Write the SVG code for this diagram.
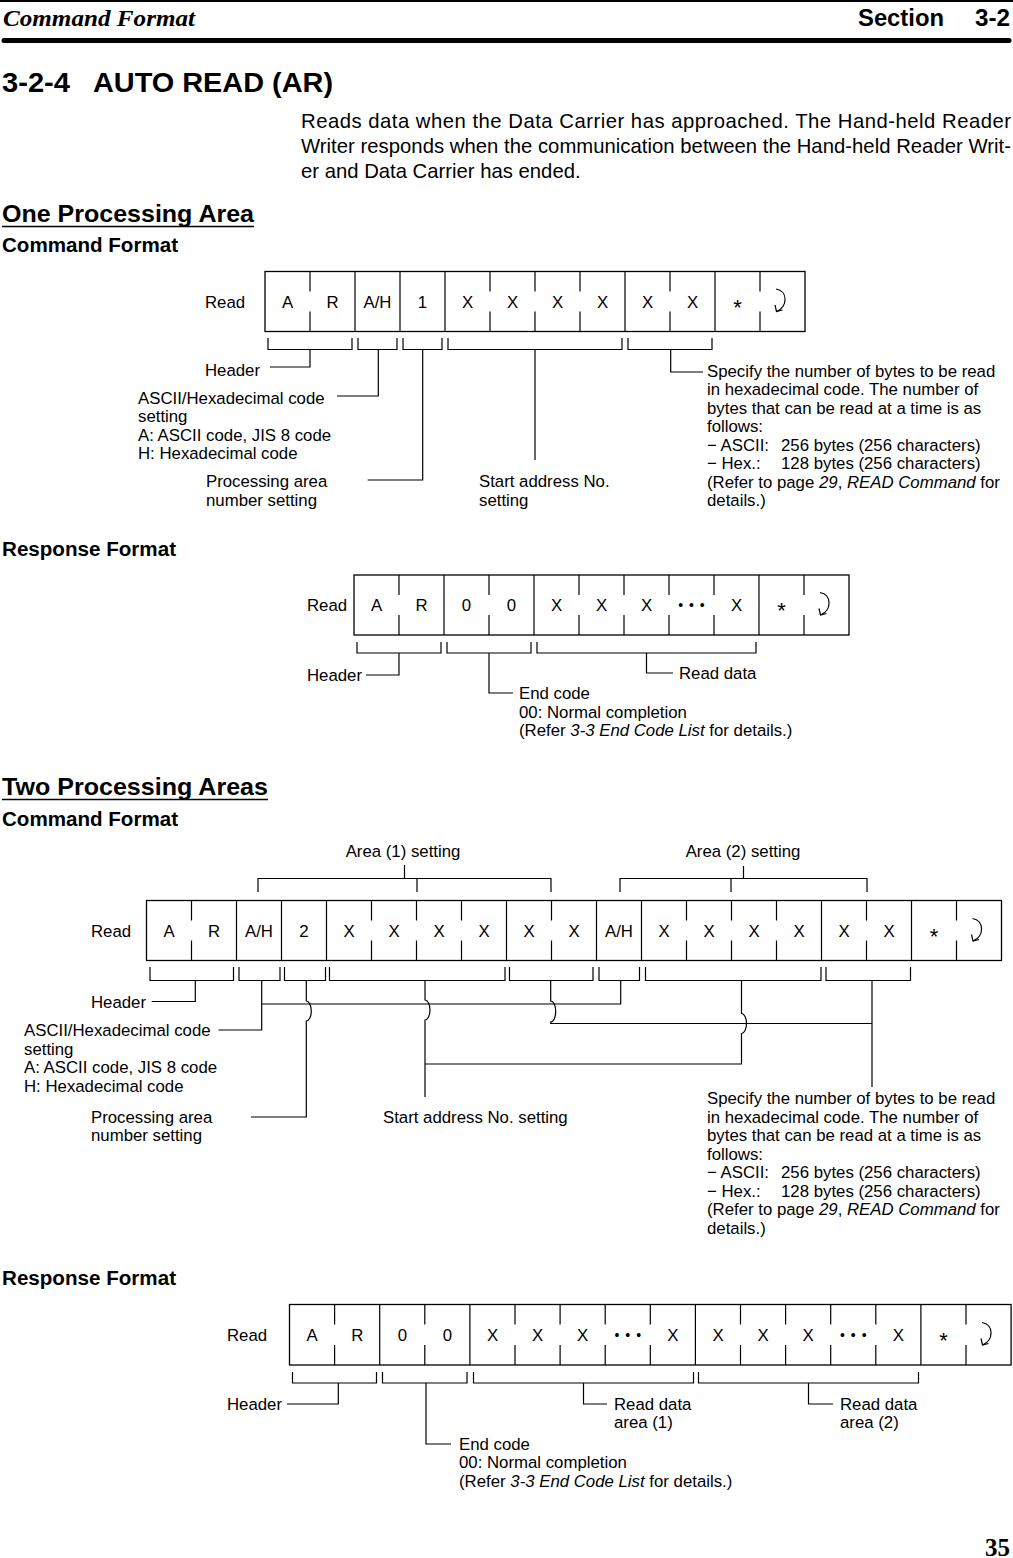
<svg xmlns="http://www.w3.org/2000/svg" width="1013" height="1558" viewBox="0 0 1013 1558">
<style>
.l{font-family:"Liberation Sans",Arial,sans-serif;font-size:16.8px;fill:#000}
.c{font-family:"Liberation Sans",Arial,sans-serif;font-size:16.8px;fill:#000;text-anchor:middle}
.st{font-family:"Liberation Sans",Arial,sans-serif;font-size:22px;fill:#000;text-anchor:middle}
.dots{font-family:"Liberation Sans",Arial,sans-serif;font-size:14px;fill:#000;text-anchor:middle;letter-spacing:1px}
.b{font-family:"Liberation Sans",Arial,sans-serif;font-size:20.3px;fill:#000}
.h2{font-family:"Liberation Sans",Arial,sans-serif;font-size:24px;font-weight:bold;fill:#000}
.h3{font-family:"Liberation Sans",Arial,sans-serif;font-size:20px;font-weight:bold;fill:#000}
.i{font-style:italic}
.box{fill:#fff;stroke:#000;stroke-width:1.3}
.ln{fill:none;stroke:#000;stroke-width:1.2}
</style>
<defs>
<g id="ret"><path d="M-4,-12 C8,-10 8,6 -3.5,10.5" fill="none" stroke="#000" stroke-width="1.2"/><path d="M-5,4 L-3.5,10.5 L2.5,9" fill="none" stroke="#000" stroke-width="1.2"/></g>
</defs>

<g id="page-header">
<line x1="0" y1="1" x2="1013" y2="1" stroke="#000" stroke-width="2"/>
<text x="3" y="26" font-family="'Liberation Serif','Times New Roman',serif" font-size="24" font-weight="bold" font-style="italic" textLength="192" lengthAdjust="spacingAndGlyphs">Command Format</text>
<text x="858" y="26" font-family="'Liberation Sans',Arial,sans-serif" font-size="23" font-weight="bold" textLength="86" lengthAdjust="spacingAndGlyphs">Section</text>
<text x="975" y="26" font-family="'Liberation Sans',Arial,sans-serif" font-size="23" font-weight="bold" textLength="35" lengthAdjust="spacingAndGlyphs">3-2</text>
<line x1="4" y1="40.5" x2="1009" y2="40.5" stroke="#000" stroke-width="5" stroke-linecap="round"/>
</g>

<g id="title">
<text x="2" y="92" font-family="'Liberation Sans',Arial,sans-serif" font-size="27" font-weight="bold" textLength="68" lengthAdjust="spacingAndGlyphs">3-2-4</text>
<text x="93" y="92" font-family="'Liberation Sans',Arial,sans-serif" font-size="27" font-weight="bold" textLength="240" lengthAdjust="spacingAndGlyphs">AUTO READ (AR)</text>
</g>

<g id="intro">
<text class="b" x="301" y="128" textLength="710" lengthAdjust="spacing">Reads data when the Data Carrier has approached. The Hand-held Reader</text>
<text class="b" x="301" y="153" textLength="710" lengthAdjust="spacing">Writer responds when the communication between the Hand-held Reader Writ-</text>
<text class="b" x="301" y="178">er and Data Carrier has ended.</text>
</g>

<g id="heading-one">
<text class="h2" x="2" y="222" textLength="252" lengthAdjust="spacingAndGlyphs">One Processing Area</text>
<line x1="2" y1="226.5" x2="254" y2="226.5" stroke="#000" stroke-width="1.6"/>
<text class="h3" x="2" y="252" textLength="176" lengthAdjust="spacingAndGlyphs">Command Format</text>
</g>

<!-- Frame 1 -->
<g id="frame1-command">
<text class="l" x="205" y="307.5">Read</text>
<rect class="box" x="265" y="271.5" width="540" height="60"/>
<path class="ln" d="M355 271.5V331.5M400 271.5V331.5M445 271.5V331.5M625 271.5V331.5M715 271.5V331.5"/>
<path class="ln" d="M310 271.5V291.5M310 311.5V331.5M490 271.5V291.5M490 311.5V331.5M535 271.5V291.5M535 311.5V331.5M580 271.5V291.5M580 311.5V331.5M670 271.5V291.5M670 311.5V331.5M760 271.5V291.5M760 311.5V331.5"/>
<text class="c" x="287.5" y="307.5">A</text>
<text class="c" x="332.5" y="307.5">R</text>
<text class="c" x="377.5" y="307.5">A/H</text>
<text class="c" x="422.5" y="307.5">1</text>
<text class="c" x="467.5" y="307.5">X</text>
<text class="c" x="512.5" y="307.5">X</text>
<text class="c" x="557.5" y="307.5">X</text>
<text class="c" x="602.5" y="307.5">X</text>
<text class="c" x="647.5" y="307.5">X</text>
<text class="c" x="692.5" y="307.5">X</text>
<text class="st" x="737.5" y="314.5">*</text>
<use href="#ret" x="780" y="301"/>
</g>

<g id="f1-header-label"><text class="l" x="205" y="376">Header</text></g>
<g id="f1-ascii-label">
<text class="l" x="138" y="403.5">ASCII/Hexadecimal code</text>
<text class="l" x="138" y="422">setting</text>
<text class="l" x="138" y="440.5">A: ASCII code, JIS 8 code</text>
<text class="l" x="138" y="459">H: Hexadecimal code</text>
</g>
<g id="f1-proc-label">
<text class="l" x="206" y="487">Processing area</text>
<text class="l" x="206" y="505.5">number setting</text>
</g>
<g id="f1-start-label">
<text class="l" x="479" y="487">Start address No.</text>
<text class="l" x="479" y="505.5">setting</text>
</g>
<g id="f1-bytes-label">
<text class="l" x="707" y="376.5">Specify the number of bytes to be read</text>
<text class="l" x="707" y="395">in hexadecimal code. The number of</text>
<text class="l" x="707" y="413.5">bytes that can be read at a time is as</text>
<text class="l" x="707" y="432">follows:</text>
<text class="l" x="707" y="450.5">− ASCII:<tspan x="781">256 bytes (256 characters)</tspan></text>
<text class="l" x="707" y="469">− Hex.:<tspan x="781">128 bytes (256 characters)</tspan></text>
<text class="l" x="707" y="487.5">(Refer to page <tspan class="i">29</tspan>, <tspan class="i">READ Command</tspan> for</text>
<text class="l" x="707" y="506">details.)</text>
</g>

<g id="heading-resp1"><text class="h3" x="2" y="556" textLength="174" lengthAdjust="spacingAndGlyphs">Response Format</text></g>

<g id="frame2-response">
<text class="l" x="307" y="611">Read</text>
<rect class="box" x="354" y="575" width="495" height="60"/>
<path class="ln" d="M444 575V635M534 575V635M759 575V635"/>
<path class="ln" d="M399 575V595M399 615V635M489 575V595M489 615V635M579 575V595M579 615V635M624 575V595M624 615V635M669 575V595M669 615V635M714 575V595M714 615V635M804 575V595M804 615V635"/>
<text class="c" x="376.5" y="611">A</text>
<text class="c" x="421.5" y="611">R</text>
<text class="c" x="466.5" y="611">0</text>
<text class="c" x="511.5" y="611">0</text>
<text class="c" x="556.5" y="611">X</text>
<text class="c" x="601.5" y="611">X</text>
<text class="c" x="646.5" y="611">X</text>
<text class="dots" x="692" y="610">• • •</text>
<text class="c" x="736.5" y="611">X</text>
<text class="st" x="781.5" y="618">*</text>
<use href="#ret" x="824" y="604.5"/>
</g>
<g id="f2-header-label"><text class="l" x="307" y="681">Header</text></g>
<g id="f2-end-label">
<text class="l" x="519" y="699">End code</text>
<text class="l" x="519" y="717.5">00: Normal completion</text>
<text class="l" x="519" y="736">(Refer <tspan class="i">3-3 End Code List</tspan> for details.)</text>
</g>
<g id="f2-data-label"><text class="l" x="679" y="679">Read data</text></g>

<g id="heading-two">
<text class="h2" x="2" y="795" textLength="266" lengthAdjust="spacingAndGlyphs">Two Processing Areas</text>
<line x1="2" y1="799.5" x2="268" y2="799.5" stroke="#000" stroke-width="1.6"/>
<text class="h3" x="2" y="826" textLength="176" lengthAdjust="spacingAndGlyphs">Command Format</text>
</g>

<g id="area1-label"><text class="c" x="403" y="857">Area (1) setting</text></g>
<g id="area2-label"><text class="c" x="743" y="857">Area (2) setting</text></g>

<g id="frame3-command">
<text class="l" x="91" y="937">Read</text>
<rect class="box" x="146.5" y="900.5" width="855" height="60"/>
<path class="ln" d="M236.5 900.5V960.5M281.5 900.5V960.5M326.5 900.5V960.5M506.5 900.5V960.5M596.5 900.5V960.5M641.5 900.5V960.5M821.5 900.5V960.5M911.5 900.5V960.5"/>
<path class="ln" d="M191.5 900.5V920.5M191.5 940.5V960.5M371.5 900.5V920.5M371.5 940.5V960.5M416.5 900.5V920.5M416.5 940.5V960.5M461.5 900.5V920.5M461.5 940.5V960.5M551.5 900.5V920.5M551.5 940.5V960.5M686.5 900.5V920.5M686.5 940.5V960.5M731.5 900.5V920.5M731.5 940.5V960.5M776.5 900.5V920.5M776.5 940.5V960.5M866.5 900.5V920.5M866.5 940.5V960.5M956.5 900.5V920.5M956.5 940.5V960.5"/>
<text class="c" x="169" y="937">A</text>
<text class="c" x="214" y="937">R</text>
<text class="c" x="259" y="937">A/H</text>
<text class="c" x="304" y="937">2</text>
<text class="c" x="349" y="937">X</text>
<text class="c" x="394" y="937">X</text>
<text class="c" x="439" y="937">X</text>
<text class="c" x="484" y="937">X</text>
<text class="c" x="529" y="937">X</text>
<text class="c" x="574" y="937">X</text>
<text class="c" x="619" y="937">A/H</text>
<text class="c" x="664" y="937">X</text>
<text class="c" x="709" y="937">X</text>
<text class="c" x="754" y="937">X</text>
<text class="c" x="799" y="937">X</text>
<text class="c" x="844" y="937">X</text>
<text class="c" x="889" y="937">X</text>
<text class="st" x="934" y="944">*</text>
<use href="#ret" x="976.5" y="930.5"/>
</g>
<g id="f3-header-label"><text class="l" x="91" y="1007.5">Header</text></g>
<g id="f3-ascii-label">
<text class="l" x="24" y="1036">ASCII/Hexadecimal code</text>
<text class="l" x="24" y="1054.5">setting</text>
<text class="l" x="24" y="1073">A: ASCII code, JIS 8 code</text>
<text class="l" x="24" y="1091.5">H: Hexadecimal code</text>
</g>
<g id="f3-proc-label">
<text class="l" x="91" y="1122.5">Processing area</text>
<text class="l" x="91" y="1141">number setting</text>
</g>
<g id="f3-start-label"><text class="l" x="383" y="1122.5">Start address No. setting</text></g>
<g id="f3-bytes-label">
<text class="l" x="707" y="1104">Specify the number of bytes to be read</text>
<text class="l" x="707" y="1122.5">in hexadecimal code. The number of</text>
<text class="l" x="707" y="1141">bytes that can be read at a time is as</text>
<text class="l" x="707" y="1159.5">follows:</text>
<text class="l" x="707" y="1178">− ASCII:<tspan x="781">256 bytes (256 characters)</tspan></text>
<text class="l" x="707" y="1196.5">− Hex.:<tspan x="781">128 bytes (256 characters)</tspan></text>
<text class="l" x="707" y="1215">(Refer to page <tspan class="i">29</tspan>, <tspan class="i">READ Command</tspan> for</text>
<text class="l" x="707" y="1233.5">details.)</text>
</g>

<g id="heading-resp2"><text class="h3" x="2" y="1285" textLength="174" lengthAdjust="spacingAndGlyphs">Response Format</text></g>

<g id="frame4-response">
<text class="l" x="227" y="1341">Read</text>
<rect class="box" x="289.5" y="1304.5" width="721.6" height="60.5"/>
<path class="ln" d="M379.7 1304.5V1365M469.9 1304.5V1365M695.4 1304.5V1365M920.9 1304.5V1365"/>
<path class="ln" d="M334.6 1304.5V1324.5M334.6 1345V1365M424.8 1304.5V1324.5M424.8 1345V1365M515 1304.5V1324.5M515 1345V1365M560.1 1304.5V1324.5M560.1 1345V1365M605.2 1304.5V1324.5M605.2 1345V1365M650.3 1304.5V1324.5M650.3 1345V1365M740.5 1304.5V1324.5M740.5 1345V1365M785.6 1304.5V1324.5M785.6 1345V1365M830.7 1304.5V1324.5M830.7 1345V1365M875.8 1304.5V1324.5M875.8 1345V1365M966 1304.5V1324.5M966 1345V1365"/>
<text class="c" x="312" y="1341">A</text>
<text class="c" x="357.2" y="1341">R</text>
<text class="c" x="402.3" y="1341">0</text>
<text class="c" x="447.4" y="1341">0</text>
<text class="c" x="492.5" y="1341">X</text>
<text class="c" x="537.6" y="1341">X</text>
<text class="c" x="582.7" y="1341">X</text>
<text class="dots" x="628.3" y="1340">• • •</text>
<text class="c" x="672.9" y="1341">X</text>
<text class="c" x="718" y="1341">X</text>
<text class="c" x="763" y="1341">X</text>
<text class="c" x="808.2" y="1341">X</text>
<text class="dots" x="853.8" y="1340">• • •</text>
<text class="c" x="898.4" y="1341">X</text>
<text class="st" x="943.5" y="1348">*</text>
<use href="#ret" x="986" y="1334.5"/>
</g>
<g id="f4-header-label"><text class="l" x="227" y="1410">Header</text></g>
<g id="f4-end-label">
<text class="l" x="459" y="1449.5">End code</text>
<text class="l" x="459" y="1468">00: Normal completion</text>
<text class="l" x="459" y="1486.5">(Refer <tspan class="i">3-3 End Code List</tspan> for details.)</text>
</g>
<g id="f4-data1-label">
<text class="l" x="614" y="1409.5">Read data</text>
<text class="l" x="614" y="1428">area (1)</text>
</g>
<g id="f4-data2-label">
<text class="l" x="840" y="1409.5">Read data</text>
<text class="l" x="840" y="1428">area (2)</text>
</g>

<g id="connectors" class="ln">
<!-- frame 1 -->
<path d="M268 338V349.5H352V338"/>
<path d="M358 338V349.5H397V338"/>
<path d="M403 338V349.5H442V338"/>
<path d="M448 338V349.5H622V338"/>
<path d="M628 338V349.5H712V338"/>
<path d="M310 349.5V367H270"/>
<path d="M378.3 349.5V396H337"/>
<path d="M422.7 349.5V480H367.7"/>
<path d="M535 349.5V460"/>
<path d="M670.7 349.5V372H703"/>
<!-- frame 2 -->
<path d="M357 642V653H441V642"/>
<path d="M447 642V653H531V642"/>
<path d="M537 642V653H756V642"/>
<path d="M399 653V675H366"/>
<path d="M489 653V693H513"/>
<path d="M646.5 653V673H673"/>
<!-- frame 3 area brackets -->
<path d="M258 892V878.5H551V892M417 878.5V892M404.5 878.5V865"/>
<path d="M620 892V878.5H867V892M731 878.5V892M743.5 878.5V866"/>
<!-- frame 3 lower brackets -->
<path d="M150 967V980.5H233.5V967"/>
<path d="M239 967V980.5H280V967"/>
<path d="M284.5 967V980.5H325.5V967"/>
<path d="M329.5 967V980.5H505V967"/>
<path d="M509.5 967V980.5H593V967"/>
<path d="M599 967V980.5H639.5V967"/>
<path d="M645.5 967V980.5H821V967"/>
<path d="M826 967V980.5H910.5V967"/>
<path d="M195.3 980.5V1001.5H151.7"/>
<path d="M261.7 980.5V1030H218.5"/>
<path d="M620.7 980.5V1004H261.7"/>
<path d="M306.3 980.5V1001A5 10 0 0 1 306.3 1021V1117H251"/>
<path d="M425 980.5V1000A5 10 0 0 1 425 1020V1097"/>
<path d="M550.7 980.5V1001A5 10.5 0 0 1 550.7 1022V1023.5H872"/>
<path d="M872 980.5V1087"/>
<path d="M741.5 980.5V1013.5A5 10 0 0 1 741.5 1033.5V1064H425"/>
<!-- frame 4 -->
<path d="M292.5 1372V1383H376.5V1372"/>
<path d="M382.5 1372V1383H467V1372"/>
<path d="M473.5 1372V1383H693.5V1372"/>
<path d="M698.5 1372V1383H918.5V1372"/>
<path d="M338.3 1383V1404H287"/>
<path d="M426 1383V1444H451"/>
<path d="M583.5 1383V1404H607"/>
<path d="M808.5 1383V1404H833"/>
</g>

<g id="page-number"><text x="1010" y="1556" text-anchor="end" font-family="'Liberation Serif','Times New Roman',serif" font-size="25" font-weight="bold">35</text></g>
</svg>
